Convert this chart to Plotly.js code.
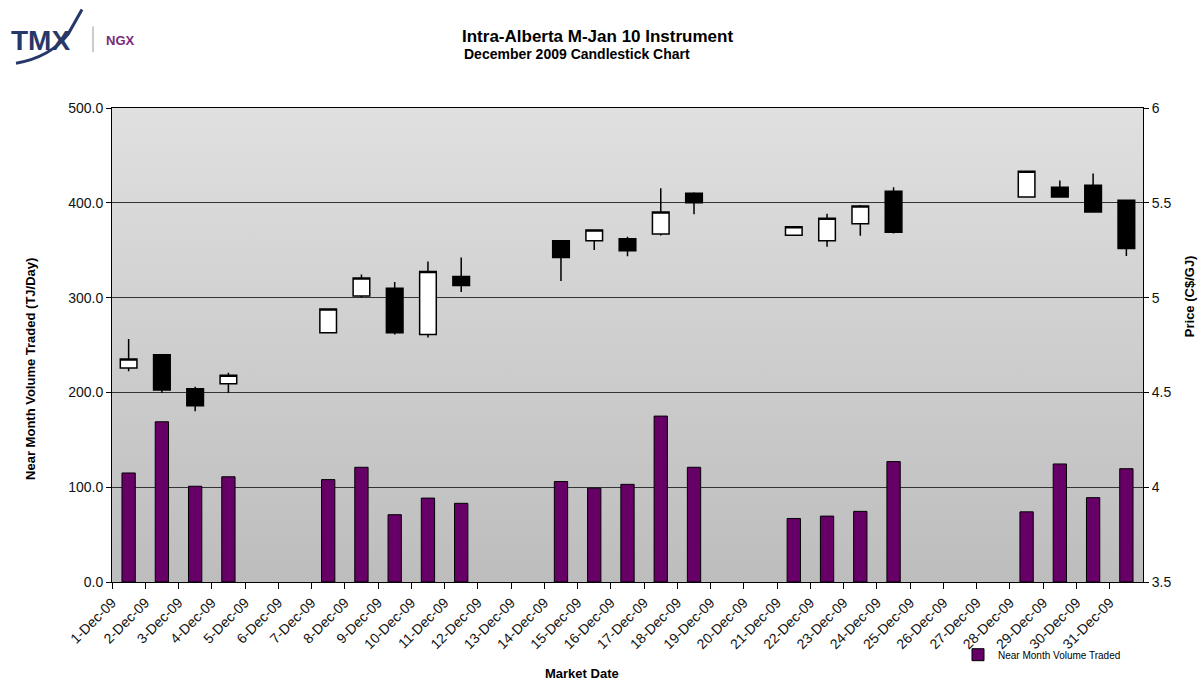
<!DOCTYPE html>
<html>
<head>
<meta charset="utf-8">
<script src="https://cdn.plot.ly/plotly-3.0.1.min.js"></script>
<style>
html,body{margin:0;padding:0;background:#ffffff;}
#chart{width:1200px;height:681px;}
</style>
</head>
<body>
<div id="chart"></div>
<script>
// ---- data ----
const dates = ['2009-12-01','2009-12-02','2009-12-03','2009-12-04','2009-12-05','2009-12-06','2009-12-07',
  '2009-12-08','2009-12-09','2009-12-10','2009-12-11','2009-12-12','2009-12-13','2009-12-14','2009-12-15',
  '2009-12-16','2009-12-17','2009-12-18','2009-12-19','2009-12-20','2009-12-21','2009-12-22','2009-12-23',
  '2009-12-24','2009-12-25','2009-12-26','2009-12-27','2009-12-28','2009-12-29','2009-12-30','2009-12-31'];
const tickLabels = ['1-Dec-09','2-Dec-09','3-Dec-09','4-Dec-09','5-Dec-09','6-Dec-09','7-Dec-09',
  '8-Dec-09','9-Dec-09','10-Dec-09','11-Dec-09','12-Dec-09','13-Dec-09','14-Dec-09','15-Dec-09',
  '16-Dec-09','17-Dec-09','18-Dec-09','19-Dec-09','20-Dec-09','21-Dec-09','22-Dec-09','23-Dec-09',
  '24-Dec-09','25-Dec-09','26-Dec-09','27-Dec-09','28-Dec-09','29-Dec-09','30-Dec-09','31-Dec-09'];
const volume = [115,169,101,111,null,null,108,121,71,88.5,83,null,null,106,99,103,175,121,null,null,
  67,69.5,74.5,127,null,null,null,74,124.5,89,119.5];
const openP  = [4.629,4.699,4.519,4.545,null,null,4.815,5.008,5.049,4.805,5.111,null,null,5.300,5.300,
  5.310,5.335,5.551,null,null,5.329,5.300,5.390,5.561,null,null,null,5.531,5.582,5.593,5.513];
const highP  = [4.781,4.700,4.530,4.603,null,null,4.942,5.122,5.082,5.191,5.211,null,null,5.300,5.361,
  5.321,5.577,5.556,null,null,5.378,5.442,5.488,5.582,null,null,null,5.668,5.617,5.655,5.515];
const lowP   = [4.612,4.498,4.400,4.498,null,null,4.812,5.000,4.805,4.789,5.029,null,null,5.087,5.251,
  5.218,5.327,5.439,null,null,5.329,5.268,5.326,5.338,null,null,null,5.529,5.529,5.450,5.220];
const closeP = [4.676,4.512,4.429,4.590,null,null,4.940,5.104,4.815,5.137,5.064,null,null,5.212,5.356,
  5.247,5.451,5.500,null,null,5.374,5.418,5.483,5.345,null,null,null,5.666,5.530,5.451,5.259];

// ---- layout helpers ----
const W = 1200, H = 681, L = 112, R = 57, T = 108, B = 97;
const PW = W - L - R, PH = H - T - B;
const px = x => (x - L) / PW;
const py = y => (H - B - y) / PH;
const FONT = 'Liberation Sans, Arial, sans-serif';
const DAY = 86400000;

const svg = "<svg xmlns='http://www.w3.org/2000/svg' width='10' height='100' viewBox='0 0 10 100' preserveAspectRatio='none'>" +
  "<defs><linearGradient id='g' x1='0' y1='0' x2='0' y2='1'><stop offset='0' stop-color='#e0e0e0'/>" +
  "<stop offset='1' stop-color='#bdbdbd'/></linearGradient></defs><rect width='10' height='100' fill='url(#g)'/></svg>";
const bgSrc = 'data:image/svg+xml;charset=utf-8,' + encodeURIComponent(svg);

const traces = [
  {
    type: 'bar', name: 'Near Month Volume Traded',
    x: dates, y: volume, xperiod: DAY, xperiodalignment: 'middle',
    marker: {color: '#660066', line: {color: '#000000', width: 1}},
    yaxis: 'y', hoverinfo: 'x+y'
  },
  {
    type: 'candlestick', name: 'Price',
    x: dates, open: openP, high: highP, low: lowP, close: closeP,
    xperiod: DAY, xperiodalignment: 'middle',
    increasing: {fillcolor: '#ffffff', line: {color: '#000000', width: 1.5}},
    decreasing: {fillcolor: '#000000', line: {color: '#000000', width: 1.5}},
    whiskerwidth: 0, yaxis: 'y2', showlegend: false
  }
];

const layout = {
  width: W, height: H,
  margin: {l: L, r: R, t: T, b: B, pad: 0},
  paper_bgcolor: '#ffffff',
  plot_bgcolor: '#cfcfcf',
  font: {family: FONT, size: 14, color: '#000000'},
  bargap: 0.6,
  boxgap: 0.5, boxgroupgap: 0,
  showlegend: true,
  title: {
    text: 'Intra-Alberta M-Jan 10 Instrument',
    font: {family: FONT, size: 17, weight: 'bold', color: '#000000'},
    xref: 'container', yref: 'container',
    x: 462 / W, xanchor: 'left', y: 1 - 36 / H, yanchor: 'middle'
  },
  xaxis: {
    type: 'date', range: ['2009-12-01', '2010-01-01'],
    tickmode: 'array', tickvals: dates, ticktext: tickLabels,
    tickangle: -45, tickfont: {family: FONT, size: 14, color: '#111111'},
    ticks: 'outside', ticklen: 6, tickcolor: '#000000', tickwidth: 1,
    showgrid: false, zeroline: false,
    showline: true, linecolor: '#000000', linewidth: 1, mirror: true,
    rangeslider: {visible: false}, fixedrange: true
  },
  yaxis: {
    range: [0, 500], dtick: 100, tick0: 0, tickformat: '.1f',
    tickfont: {family: FONT, size: 14, color: '#111111'},
    ticks: 'outside', ticklen: 5, tickcolor: '#000000',
    showgrid: true, gridcolor: '#333333', gridwidth: 1,
    zeroline: false, showline: true, linecolor: '#000000', linewidth: 1,
    fixedrange: true
  },
  yaxis2: {
    overlaying: 'y', side: 'right', range: [3.5, 6], dtick: 0.5, tick0: 3.5,
    tickfont: {family: FONT, size: 14, color: '#111111'},
    ticks: 'outside', ticklen: 5, tickcolor: '#000000',
    showgrid: false, zeroline: false, showline: true, linecolor: '#000000', linewidth: 1,
    fixedrange: true
  },
  legend: {
    xref: 'paper', yref: 'paper', x: px(958), y: py(657), xanchor: 'left', yanchor: 'middle',
    font: {family: FONT, size: 10, color: '#000000'}, bgcolor: 'rgba(0,0,0,0)', borderwidth: 0
  },
  images: [{
    source: bgSrc, xref: 'paper', yref: 'paper', x: 0, y: 1, sizex: 1, sizey: 1,
    xanchor: 'left', yanchor: 'top', sizing: 'stretch', layer: 'below'
  }],
  shapes: [
    {type: 'line', xref: 'paper', yref: 'paper', x0: px(93), x1: px(93), y0: py(26), y1: py(52),
     line: {color: '#9a9a9a', width: 1}},
    {type: 'path', xref: 'paper', yref: 'paper',
     path: `M ${px(16)},${py(63)} Q ${px(50)},${py(57)} ${px(68)},${py(34)} L ${px(82)},${py(9)}`,
     line: {color: '#26386b', width: 3}}
  ],
  annotations: [
    {text: '<b>December 2009 Candlestick Chart</b>', xref: 'paper', yref: 'paper', x: px(462), y: py(54),
     xanchor: 'left', yanchor: 'middle', showarrow: false, font: {family: FONT, size: 14, color: '#000000'}},
    {text: '<b>TMX</b>', xref: 'paper', yref: 'paper', x: px(9), y: py(40), xanchor: 'left', yanchor: 'middle',
     showarrow: false, font: {family: FONT, size: 28, color: '#26386b'}},
    {text: '<b>NGX</b>', xref: 'paper', yref: 'paper', x: px(104), y: py(40), xanchor: 'left', yanchor: 'middle',
     showarrow: false, font: {family: FONT, size: 13, color: '#7a2a7a'}},
    {text: '<b>Near Month Volume Traded (TJ/Day)</b>', textangle: -90, xref: 'paper', yref: 'paper',
     x: px(31), y: py(370), xanchor: 'center', yanchor: 'middle', showarrow: false,
     font: {family: FONT, size: 13, color: '#000000'}},
    {text: '<b>Price (C$/GJ)</b>', textangle: -90, xref: 'paper', yref: 'paper',
     x: px(1189), y: py(297), xanchor: 'center', yanchor: 'middle', showarrow: false,
     font: {family: FONT, size: 13, color: '#000000'}},
    {text: '<b>Market Date</b>', xref: 'paper', yref: 'paper',
     x: px(582), y: py(676), xanchor: 'center', yanchor: 'middle', showarrow: false,
     font: {family: FONT, size: 13, color: '#000000'}}
  ]
};

Plotly.newPlot('chart', traces, layout, {displayModeBar: false, staticPlot: true});
</script>
</body>
</html>
